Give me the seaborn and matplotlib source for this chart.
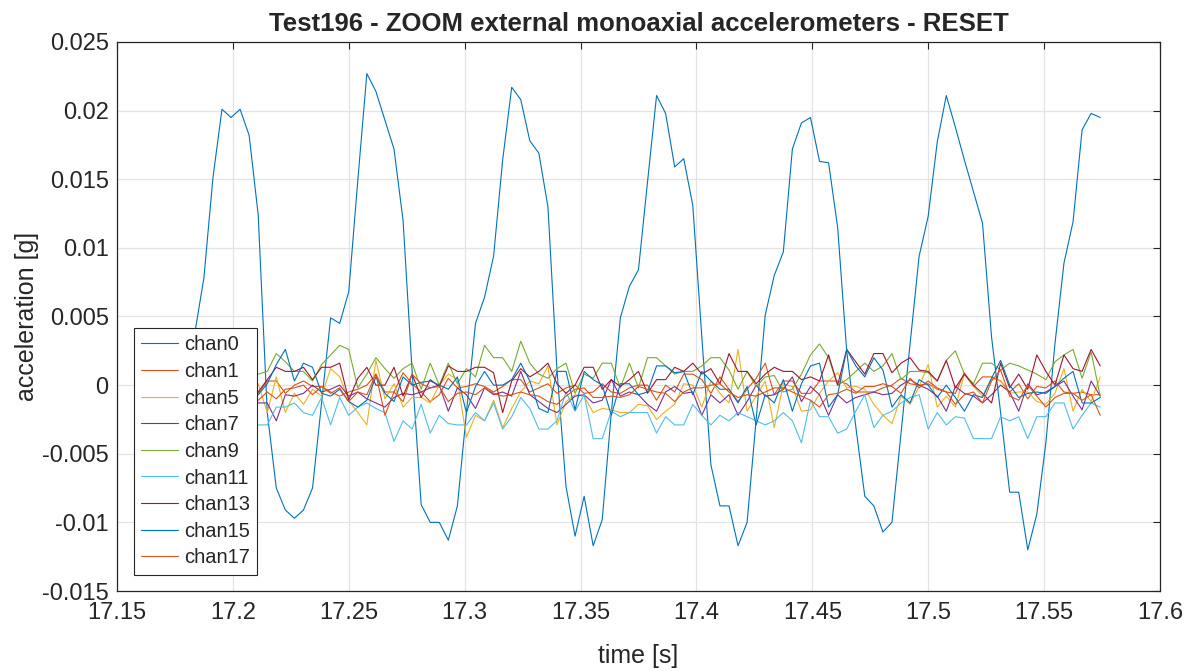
import numpy as np
import pandas as pd
import matplotlib
matplotlib.use('Agg')
import matplotlib.pyplot as plt
import seaborn as sns
from matplotlib.ticker import FuncFormatter

fs = 256.0
t_start = 17.16795

chan0 = [-0.0100, -0.0090, -0.0060, -0.0010, 0.0038, 0.0078, 0.0151, 0.0201, 0.0195, 0.0201,
         0.0182, 0.0124, -0.0020, -0.0075, -0.0091, -0.0097, -0.0091, -0.0075, -0.0013, 0.0049,
         0.0045, 0.0068, 0.0149, 0.0227, 0.0214, 0.0193, 0.0172, 0.0120, 0.0010, -0.0087,
         -0.0100, -0.0100, -0.0113, -0.0088, -0.0020, 0.0045, 0.0064, 0.0094, 0.0164, 0.0217,
         0.0208, 0.0178, 0.0169, 0.0130, 0.0011, -0.0074, -0.0110, -0.0081, -0.0117, -0.0098,
         -0.0020, 0.0049, 0.0072, 0.0084, 0.0148, 0.0211, 0.0198, 0.0159, 0.0165, 0.0131,
         0.0035, -0.0058, -0.0088, -0.0088, -0.0117, -0.0100, -0.0025, 0.0051, 0.0080, 0.0097,
         0.0172, 0.0191, 0.0195, 0.0163, 0.0162, 0.0115, 0.0025, -0.0030, -0.0081, -0.0088,
         -0.0107, -0.0100, -0.0035, 0.0030, 0.0094, 0.0123, 0.0177, 0.0211, 0.0188, 0.0164,
         0.0141, 0.0118, 0.0035, -0.0020, -0.0078, -0.0078, -0.0120, -0.0094, -0.0042, 0.0030,
         0.0089, 0.0119, 0.0186, 0.0198, 0.0195]

chan1 = [0.0002, -0.0004, 0.0001, -0.0006, 0.0003, -0.0002, 0.0004, -0.0003, 0.0000, 0.0005,
         -0.0002, -0.0006, 0.0003, 0.0003, -0.0006, 0.0000, 0.0003, -0.0001, -0.0001, -0.0005,
         -0.0008, -0.0005, -0.0003, 0.0000, 0.0008, -0.0005, -0.0005, 0.0009, 0.0001, -0.0005,
         -0.0012, -0.0007, 0.0005, -0.0002, -0.0001, 0.0001, -0.0001, -0.0005, -0.0001, 0.0004,
         0.0004, -0.0005, -0.0002, 0.0001, -0.0006, -0.0002, 0.0000, -0.0006, -0.0005, 0.0001,
         -0.0005, -0.0006, -0.0002, 0.0000, 0.0000, -0.0011, 0.0000, -0.0005, 0.0008, 0.0008,
         0.0004, -0.0006, 0.0006, -0.0003, -0.0012, -0.0003, 0.0005, 0.0016, -0.0007, 0.0003,
         0.0003, -0.0006, -0.0006, 0.0003, 0.0003, 0.0003, 0.0001, -0.0005, -0.0005, -0.0005,
         -0.0002, 0.0000, 0.0005, 0.0001, 0.0000, 0.0001, -0.0003, -0.0005, -0.0006, 0.0009,
         -0.0001, 0.0006, 0.0006, 0.0003, -0.0005, 0.0001, -0.0010, -0.0001, -0.0002, 0.0003,
         -0.0005, -0.0006, -0.0005, -0.0007, -0.0007]

chan5 = [-0.0008, 0.0004, -0.0015, -0.0003, 0.0007, -0.0012, -0.0005, 0.0009, -0.0017, -0.0002,
         0.0004, 0.0001, -0.0020, 0.0006, -0.0020, -0.0006, -0.0014, -0.0003, -0.0008, 0.0012,
         0.0006, -0.0011, -0.0020, -0.0029, 0.0018, -0.0010, 0.0001, -0.0016, -0.0009, -0.0009,
         -0.0013, 0.0000, 0.0008, 0.0004, -0.0038, -0.0022, -0.0026, -0.0011, -0.0031, -0.0017,
         -0.0005, 0.0003, 0.0001, 0.0014, -0.0029, -0.0012, -0.0007, -0.0008, -0.0020, -0.0017,
         -0.0018, -0.0020, -0.0020, -0.0014, -0.0015, -0.0025, -0.0019, -0.0014, 0.0001, 0.0000,
         -0.0016, 0.0003, -0.0006, -0.0013, 0.0026, -0.0019, -0.0008, 0.0003, -0.0031, 0.0001,
         -0.0001, -0.0019, -0.0018, -0.0006, 0.0003, 0.0009, -0.0002, -0.0001, -0.0003, -0.0014,
         -0.0022, -0.0028, -0.0008, -0.0014, -0.0001, 0.0015, -0.0016, -0.0008, -0.0016, 0.0008,
         -0.0001, -0.0008, 0.0005, 0.0003, -0.0006, -0.0005, -0.0005, -0.0012, -0.0014, -0.0006,
         0.0012, -0.0019, -0.0003, -0.0012, 0.0006]

chan7 = [-0.0009, -0.0004, -0.0014, -0.0006, -0.0011, -0.0002, -0.0010, -0.0016, -0.0005, -0.0012,
         -0.0008, -0.0013, -0.0013, -0.0026, -0.0007, -0.0008, -0.0006, 0.0000, -0.0005, -0.0003,
         0.0000, -0.0008, -0.0005, -0.0010, -0.0013, -0.0016, -0.0009, -0.0006, -0.0007, -0.0005,
         -0.0002, 0.0000, -0.0019, -0.0002, -0.0007, -0.0017, -0.0002, -0.0007, -0.0005, -0.0008,
         0.0010, -0.0007, -0.0012, -0.0017, -0.0020, -0.0014, -0.0008, -0.0007, -0.0013, -0.0011,
         0.0004, -0.0008, -0.0005, -0.0007, -0.0014, -0.0019, -0.0005, -0.0001, -0.0006, -0.0005,
         -0.0022, -0.0007, -0.0013, -0.0007, -0.0022, -0.0012, 0.0000, -0.0008, -0.0007, -0.0003,
         0.0006, -0.0012, -0.0001, -0.0007, -0.0022, -0.0007, -0.0013, -0.0009, -0.0007, -0.0005,
         -0.0007, -0.0006, 0.0000, 0.0004, 0.0000, -0.0003, -0.0008, -0.0019, -0.0001, -0.0006,
         -0.0008, -0.0013, -0.0007, 0.0000, -0.0005, -0.0019, 0.0001, -0.0007, -0.0005, -0.0001,
         0.0003, -0.0008, -0.0018, 0.0003, -0.0008]

chan9 = [0.0012, 0.0018, 0.0006, 0.0015, 0.0021, 0.0009, 0.0013, 0.0004, 0.0017, 0.0011,
         0.0006, 0.0008, 0.0010, 0.0023, 0.0017, 0.0010, 0.0010, 0.0003, 0.0015, 0.0022,
         0.0029, 0.0026, -0.0002, 0.0008, 0.0020, 0.0012, 0.0005, 0.0012, 0.0016, -0.0003,
         0.0016, 0.0000, 0.0016, 0.0001, 0.0012, 0.0006, 0.0029, 0.0020, 0.0020, 0.0010,
         0.0032, 0.0016, 0.0008, 0.0005, 0.0012, 0.0016, -0.0006, 0.0008, 0.0005, 0.0016,
         0.0016, -0.0002, 0.0016, -0.0002, 0.0020, 0.0020, 0.0014, 0.0008, 0.0010, 0.0010,
         0.0014, 0.0020, 0.0020, 0.0011, -0.0003, 0.0010, -0.0001, 0.0006, 0.0007, -0.0005,
         -0.0003, 0.0008, 0.0022, 0.0030, 0.0020, 0.0000, 0.0004, 0.0010, 0.0016, 0.0010,
         0.0014, 0.0023, 0.0004, 0.0010, 0.0010, 0.0009, 0.0003, 0.0018, 0.0025, 0.0008,
         0.0001, 0.0016, 0.0016, 0.0011, 0.0016, 0.0014, 0.0011, 0.0008, 0.0004, 0.0017,
         0.0022, 0.0026, 0.0005, 0.0024, -0.0008]

chan11 = [-0.0025, -0.0031, -0.0019, -0.0027, -0.0034, -0.0022, -0.0028, -0.0017, -0.0030, -0.0024,
          -0.0029, -0.0029, -0.0029, -0.0016, -0.0016, -0.0013, -0.0020, -0.0022, -0.0009, -0.0029,
          -0.0009, -0.0022, -0.0016, -0.0013, -0.0017, -0.0020, -0.0041, -0.0026, -0.0032, -0.0014,
          -0.0035, -0.0022, -0.0028, -0.0029, -0.0029, -0.0020, -0.0026, -0.0013, -0.0032, -0.0023,
          -0.0009, -0.0017, -0.0032, -0.0032, -0.0026, -0.0005, -0.0019, -0.0007, -0.0039, -0.0039,
          -0.0019, -0.0023, -0.0020, -0.0020, -0.0020, -0.0035, -0.0023, -0.0029, -0.0029, -0.0014,
          -0.0022, -0.0029, -0.0022, -0.0026, -0.0020, -0.0023, -0.0026, -0.0029, -0.0026, -0.0020,
          -0.0026, -0.0042, -0.0011, -0.0023, -0.0023, -0.0035, -0.0032, -0.0019, -0.0007, -0.0031,
          -0.0022, -0.0019, -0.0013, -0.0009, -0.0007, -0.0032, -0.0020, -0.0029, -0.0023, -0.0024,
          -0.0039, -0.0039, -0.0039, -0.0023, -0.0026, -0.0023, -0.0039, -0.0023, -0.0023, -0.0013,
          -0.0013, -0.0032, -0.0022, -0.0013, -0.0016]

chan13 = [0.0006, 0.0014, 0.0002, 0.0011, -0.0003, 0.0009, 0.0015, 0.0004, 0.0010, -0.0002,
          0.0003, -0.0005, 0.0004, 0.0013, 0.0010, 0.0010, 0.0013, 0.0004, 0.0013, 0.0013,
          0.0016, -0.0011, 0.0005, 0.0013, 0.0000, 0.0000, 0.0013, -0.0008, 0.0008, -0.0009,
          0.0004, -0.0001, 0.0014, 0.0010, 0.0010, 0.0013, 0.0013, 0.0009, -0.0020, 0.0003,
          0.0012, 0.0006, 0.0010, 0.0016, 0.0001, -0.0006, 0.0000, 0.0013, 0.0013, -0.0003,
          0.0004, -0.0001, 0.0004, 0.0010, -0.0006, 0.0004, 0.0004, 0.0013, 0.0010, 0.0016,
          0.0008, 0.0012, 0.0001, 0.0023, 0.0010, 0.0010, 0.0001, 0.0008, 0.0013, 0.0010,
          0.0010, 0.0004, 0.0006, 0.0003, 0.0022, 0.0000, 0.0026, 0.0017, 0.0008, 0.0023,
          0.0023, 0.0009, 0.0016, 0.0020, 0.0011, 0.0010, 0.0003, 0.0018, -0.0002, 0.0008,
          0.0000, -0.0006, -0.0013, 0.0016, -0.0002, 0.0008, -0.0003, 0.0022, 0.0010, 0.0000,
          0.0022, 0.0012, 0.0010, 0.0026, 0.0014]

chan15 = [0.0004, -0.0009, 0.0012, -0.0003, 0.0007, -0.0014, 0.0002, 0.0010, -0.0006, 0.0005,
          -0.0010, -0.0007, 0.0001, 0.0015, 0.0026, 0.0003, 0.0016, 0.0013, -0.0006, -0.0008,
          -0.0003, -0.0012, -0.0016, -0.0011, 0.0006, -0.0006, -0.0012, 0.0006, 0.0000, 0.0002,
          0.0003, 0.0000, -0.0003, 0.0006, -0.0020, -0.0001, 0.0010, 0.0000, 0.0000, 0.0004,
          0.0016, 0.0003, -0.0017, -0.0020, 0.0010, 0.0010, -0.0018, 0.0010, 0.0004, 0.0000,
          -0.0022, 0.0001, 0.0001, -0.0007, -0.0005, 0.0014, 0.0014, 0.0009, 0.0010, -0.0007,
          0.0010, 0.0003, -0.0003, -0.0003, -0.0013, -0.0001, -0.0029, -0.0007, -0.0013, 0.0004,
          -0.0019, 0.0001, 0.0014, 0.0016, -0.0016, -0.0007, 0.0026, 0.0014, 0.0006, 0.0020,
          0.0011, -0.0016, -0.0007, -0.0013, 0.0004, 0.0000, -0.0009, 0.0000, -0.0009, -0.0019,
          -0.0007, -0.0009, 0.0005, 0.0018, 0.0000, -0.0009, -0.0006, -0.0005, -0.0006, -0.0001,
          0.0005, 0.0010, -0.0013, -0.0013, -0.0009]

chan17 = [-0.0006, -0.0002, -0.0010, -0.0004, 0.0001, -0.0008, -0.0003, -0.0009, 0.0000, -0.0007,
          -0.0012, -0.0011, -0.0005, -0.0010, -0.0003, -0.0002, 0.0000, -0.0007, -0.0001, -0.0006,
          -0.0002, -0.0012, -0.0005, -0.0007, 0.0008, -0.0022, -0.0005, -0.0012, 0.0008, 0.0001,
          -0.0002, -0.0001, -0.0012, -0.0006, -0.0005, -0.0007, -0.0002, -0.0006, -0.0008, -0.0007,
          -0.0005, -0.0007, -0.0008, -0.0012, -0.0014, -0.0008, -0.0003, -0.0002, -0.0009, -0.0009,
          -0.0008, -0.0009, -0.0007, -0.0001, -0.0003, -0.0005, -0.0006, -0.0012, -0.0005, -0.0002,
          -0.0002, 0.0000, 0.0001, -0.0005, -0.0009, -0.0007, -0.0008, -0.0005, -0.0002, -0.0002,
          -0.0005, -0.0008, -0.0011, -0.0016, -0.0007, -0.0006, -0.0003, -0.0006, -0.0001, -0.0001,
          0.0001, -0.0001, -0.0006, 0.0005, -0.0002, 0.0003, -0.0002, -0.0005, -0.0014, -0.0007,
          -0.0005, -0.0013, 0.0003, 0.0011, -0.0008, -0.0011, 0.0000, -0.0008, -0.0016, -0.0009,
          -0.0006, -0.0006, -0.0011, -0.0007, -0.0022]

channels = ['chan0', 'chan1', 'chan5', 'chan7', 'chan9', 'chan11', 'chan13', 'chan15', 'chan17']
series = [chan0, chan1, chan5, chan7, chan9, chan11, chan13, chan15, chan17]
colors = ['#0072BD', '#D95319', '#EDB120', '#7E2F8E', '#77AC30',
          '#4DBEEE', '#A2142F', '#0072BD', '#D95319']

time = t_start + np.arange(len(chan0)) / fs

sns.set_style('white')
plt.rcParams['font.family'] = ['Liberation Sans', 'DejaVu Sans']

fig = plt.figure(figsize=(11.94, 6.71), dpi=100)
ax = fig.add_axes([117 / 1194, 1 - 591 / 671, (1160 - 117) / 1194, (591 - 42) / 671])

for name, vals, col in zip(channels, series, colors):
    df = pd.DataFrame({'time': time, 'acc': vals})
    sns.lineplot(data=df, x='time', y='acc', color=col, lw=0.8, label=name,
                 estimator=None, sort=False, ax=ax)

ax.set_xlim(17.15, 17.6)
ax.set_ylim(-0.015, 0.025)
ax.set_xticks(np.arange(17.15, 17.6001, 0.05))
ax.set_yticks(np.arange(-0.015, 0.02501, 0.005))
fmt = FuncFormatter(lambda v, p: '%g' % round(v, 6))
ax.xaxis.set_major_formatter(fmt)
ax.yaxis.set_major_formatter(fmt)

ax.grid(True, color='#e3e3e3', lw=0.9)
ax.set_axisbelow(True)
for s in ax.spines.values():
    s.set_color('#262626')
    s.set_linewidth(0.9)
ax.tick_params(direction='in', length=5, width=0.8, color='#262626',
               labelsize=17, labelcolor='#262626', top=True, right=True)
ax.tick_params(axis='x', pad=8)
ax.tick_params(axis='y', pad=6)

ax.set_title('Test196 - ZOOM external monoaxial accelerometers - RESET',
             fontsize=18.5, fontweight='bold', pad=8)
ax.set_xlabel('time [s]', fontsize=18, color='#262626', labelpad=14)
ax.set_ylabel('acceleration [g]', fontsize=18, color='#262626', labelpad=2)

leg = ax.legend(loc='lower left', bbox_to_anchor=(0.016, 0.03), fontsize=14.5,
                frameon=True, fancybox=False, framealpha=1, edgecolor='#262626',
                handlelength=1.85, labelspacing=0.38, borderpad=0.35, handletextpad=0.3,
                borderaxespad=0)
leg.get_frame().set_linewidth(0.8)

fig.savefig('out.png', dpi=100)
